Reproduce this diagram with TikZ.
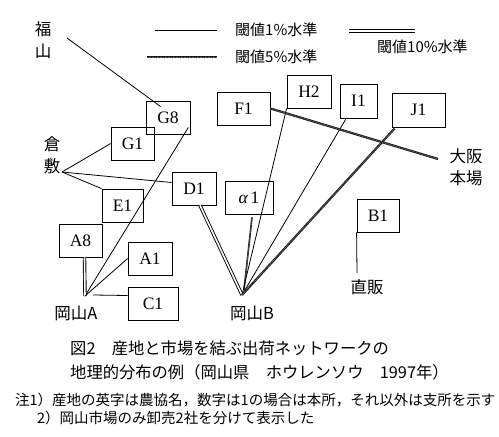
\documentclass[tikz,border=0pt]{standalone}
\usepackage{fontspec}
\setmainfont{Liberation Serif}
\newfontfamily\jp{Noto Sans CJK JP}
\usetikzlibrary{calc}

\tikzset{
  farm/.style={draw, line width=0.8pt, minimum height=33pt, inner sep=0pt, font=\fontsize{17.5}{17.5}\selectfont},
  place/.style={font=\jp\fontsize{16.5}{22}\selectfont, inner sep=0pt, align=center},
  legendtext/.style={font=\jp\fontsize{15}{15}\selectfont, inner sep=0pt, anchor=west},
  note/.style={inner sep=0pt, anchor=west},
  throne/.style={line width=0.8pt},
  thrfive/.style={line width=2.2pt, draw=black!90, postaction={draw=black!60, line width=1pt, dash pattern=on 0.8pt off 0.8pt}},
  thrten/.style={double, double distance=1.6pt, line width=0.9pt},
}

\begin{document}
\begin{tikzpicture}[x=1pt, y=-1pt]
  \useasboundingbox (0,0) rectangle (499,437);
  % 凡例
  \coordinate (leg1a) at (155,30);  \coordinate (leg1b) at (217,30);
  \coordinate (leg5a) at (147,57);  \coordinate (leg5b) at (217,57);
  \coordinate (leg10a) at (349,31); \coordinate (leg10b) at (415,31);
  \draw[throne] (leg1a) -- (leg1b);
  \draw[thrfive] (leg5a) -- (leg5b);
  \draw[thrten] (leg10a) -- (leg10b);
  \node[legendtext] (leg1t) at (235,30) {閾値1\%水準};
  \node[legendtext] (leg5t) at (235,57) {閾値5\%水準};
  \node[legendtext] (leg10t) at (377,47) {閾値10\%水準};

  % 農協の箱
  \node[farm, minimum width=44pt] (G8) at (168,117.5) {G8};
  \node[farm, minimum width=43pt] (G1) at (132.5,143.5) {G1};
  \node[farm, minimum width=53pt] (F1) at (243.5,108.5) {F1};
  \node[farm, minimum width=44pt] (H2) at (309,91.5) {H2};
  \node[farm, minimum width=37pt, minimum height=34pt] (I1) at (358.5,101) {I1};
  \node[farm, minimum width=53pt, minimum height=34pt] (J1) at (418.5,110) {J1};
  \node[farm, minimum width=44pt] (D1) at (194,188.5) {D1};
  \node[farm, minimum width=41pt] (E1) at (122.5,205.5) {E1};
  \node[farm, minimum width=43pt] (A8) at (80.5,240.5) {A8};
  \node[farm, minimum width=44pt] (A1) at (150,258.5) {A1};
  \node[farm, minimum width=50pt] (C1) at (153,303.5) {C1};
  \node[farm, minimum width=48pt] (al1) at (249,197.5) {{\itshape α}\,1};
  \node[farm, minimum width=42pt] (B1) at (378,215.5) {B1};

  % 市場
  \node[place] (fukuyama) at (43,40) {福\\山};
  \node[place] (kurashiki) at (52,155) {倉\\敷};
  \node[place] (osakat) at (466,167) {大阪\\本場};
  \node[place] (okaAt) at (76,313) {岡山A};
  \node[place] (okaBt) at (252,313) {岡山B};
  \node[place] (chokut) at (367,287) {直販};
  \coordinate (fuku) at (67,38);
  \coordinate (kura) at (62,172);
  \coordinate (okaA) at (85,296);
  \coordinate (okaB) at (242,295);
  \coordinate (osaka) at (438,159);
  \coordinate (choku) at (357,273);

  % 福山・倉敷
  \draw[throne] (fuku) -- ($(G8.north west)+(15,6)$);
  \draw[throne] (kura) -- (G1.west);
  \draw[throne] (kura) -- (E1.north west);
  \draw[throne] (kura) -- ($(D1.west)+(0,-6)$);
  % 岡山A
  \draw[throne] (okaA) -- ($(G8.south east)+(-2,-7)$);
  \draw[thrten] (okaA) -- ($(A8.south)+(4,0)$);
  \draw[throne] (okaA) -- (A1.west);
  \draw[throne] ($(okaA)+(8,-1)$) -- ($(C1.west)+(0,-8)$);
  % 岡山B
  \draw[thrten] (okaB) -- ($(D1.south)+(6,0)$);
  \draw[thrfive, line width=1.6pt] ($(okaB)+(2,-5)$) -- ($(al1.south)+(3,3)$);
  \draw[throne] (okaB) -- (H2.south west);
  \draw[throne] (okaB) -- ($(I1.south west)+(6,1)$);
  \draw[thrfive] (okaB) -- ($(J1.south west)+(3,1)$);
  % 大阪本場・直販
  \draw[thrfive] (F1.east) -- (osaka);
  \draw[throne] (B1.south west) -- (choku);

  % 図の題と注
  \node[note, font=\jp\fontsize{16.3}{16.3}\selectfont] (cap1) at (70,348) {図2　産地と市場を結ぶ出荷ネットワークの};
  \node[note, font=\jp\fontsize{16.3}{16.3}\selectfont] (cap2) at (70,372) {地理的分布の例（岡山県　ホウレンソウ　1997年）};
  \node[note, font=\jp\fontsize{14.5}{14.5}\selectfont] (note1) at (15,400) {注1）産地の英字は農協名，数字は1の場合は本所，それ以外は支所を示す};
  \node[note, font=\jp\fontsize{14.5}{14.5}\selectfont] (note2) at (37,418) {2）岡山市場のみ卸売2社を分けて表示した};
\end{tikzpicture}
\end{document}
